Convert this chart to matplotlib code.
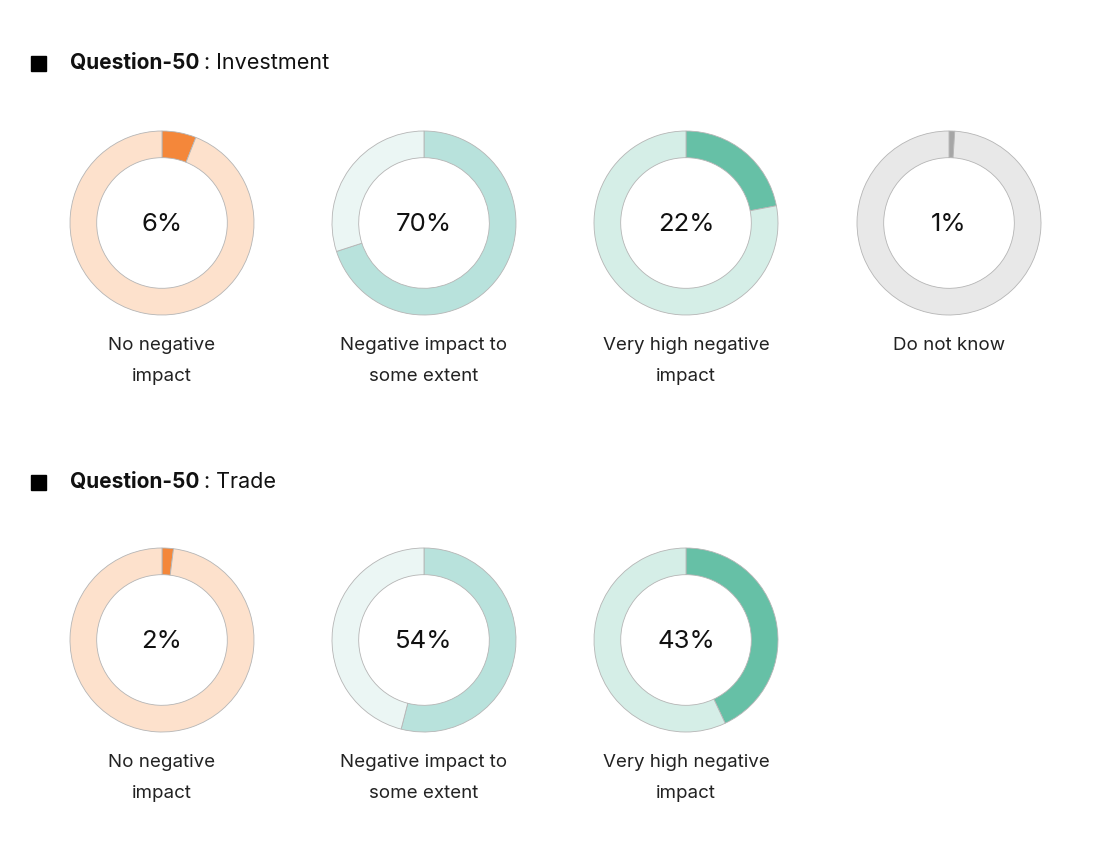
import matplotlib
matplotlib.use("Agg")
import matplotlib.pyplot as plt

W, H = 1110, 859

sections = ["Investment", "Trade"]
question = "Question-50"
labels_inv = ["No negative\nimpact", "Negative impact to\nsome extent", "Very high negative\nimpact", "Do not know"]
values_inv = [6, 70, 22, 1]
labels_trade = ["No negative\nimpact", "Negative impact to\nsome extent", "Very high negative\nimpact"]
values_trade = [2, 54, 43]

dark_colors = ["#F4873A", "#B8E2DC", "#66C0A6", "#A6A6A6"]
light_colors = ["#FDE1CC", "#EBF6F4", "#D5EEE7", "#E8E8E8"]

FONT = "Inter"

fig = plt.figure(figsize=(W / 100, H / 100), dpi=100)
fig.patch.set_facecolor("white")

def px_axes(cx, cy, r):
    return fig.add_axes([(cx - r) / W, 1 - (cy + r) / H, 2 * r / W, 2 * r / H])

def header(y, section):
    fig.patches.append(plt.Rectangle((31 / W, 1 - (y + 8) / H), 15 / W, 15 / H,
                                     transform=fig.transFigure, color="black"))
    t = fig.text(70 / W, 1 - y / H, question, fontsize=15, fontweight="bold",
                 family=FONT, va="center", ha="left", color="#111111")
    fig.canvas.draw()
    bb = t.get_window_extent()
    fig.text((bb.x1 + 5) / W, 1 - y / H, ": " + section, fontsize=15.5,
             family=FONT, va="center", ha="left", color="#111111")

def donut(cx, cy, val, dark, light, label):
    r = 92
    ax = px_axes(cx, cy, r)
    ax.pie([val, 100 - val], colors=[dark, light], startangle=90, counterclock=False,
           radius=1.0, wedgeprops=dict(width=0.29, edgecolor="#B5B5B5", linewidth=0.6))
    ax.set_xlim(-1, 1)
    ax.set_ylim(-1, 1)
    ax.set_aspect("equal")
    ax.axis("off")
    ax.text(0, -0.02, f"{val}%", ha="center", va="center", fontsize=18.5, family=FONT,
            color="#111111")
    fig.text(cx / W, 1 - (cy + 114) / H, label, ha="center",
             va="top", fontsize=13.5, family=FONT, color="#222222", linespacing=2.05)

centers_x = [162, 424, 686, 949]

header(63, sections[0])
for i, (v, lab) in enumerate(zip(values_inv, labels_inv)):
    donut(centers_x[i], 223, v, dark_colors[i], light_colors[i], lab)

header(482, sections[1])
for i, (v, lab) in enumerate(zip(values_trade, labels_trade)):
    donut(centers_x[i], 640, v, dark_colors[i], light_colors[i], lab)

fig.savefig("out.png", dpi=100, facecolor="white")
